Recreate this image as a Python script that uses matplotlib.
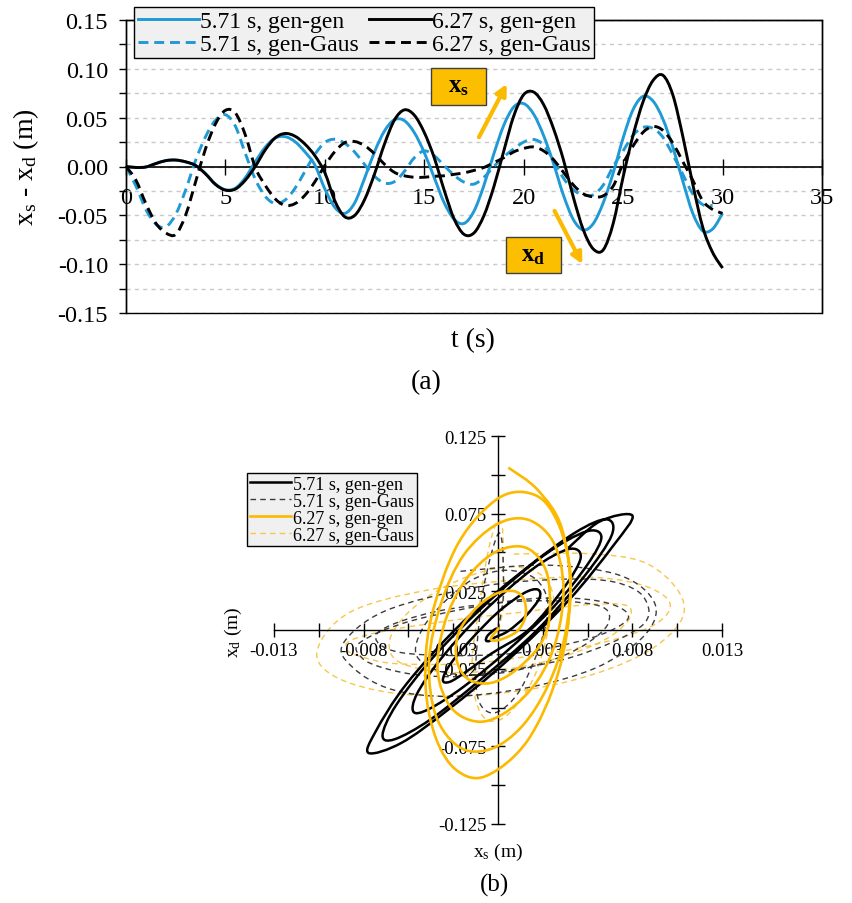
import numpy as np
import matplotlib
matplotlib.use("Agg")
import matplotlib.pyplot as plt
from matplotlib.patches import Rectangle, PathPatch
from matplotlib.path import Path
from matplotlib.lines import Line2D
from matplotlib.ticker import FixedLocator, FormatStrFormatter, MultipleLocator

plt.rcParams['font.family'] = ['Liberation Serif', 'DejaVu Serif']
plt.rcParams['mathtext.fontset'] = 'custom'
plt.rcParams['mathtext.rm'] = 'Liberation Serif'
plt.rcParams['mathtext.it'] = 'Liberation Serif:italic'
plt.rcParams['mathtext.bf'] = 'Liberation Serif:bold'

# ---- data -----------------------------------------------------------------
labels = ['5.71 s, gen-gen', '5.71 s, gen-Gaus', '6.27 s, gen-gen', '6.27 s, gen-Gaus']

# relative displacement x_s - x_d (m), sampled every 0.5 s
rel_571_gen = [0, -0.001, -0.0005, 0.003, 0.006, 0.0066, 0.0047, 0.0012, -0.0073, -0.018,
               -0.0238, -0.0222, -0.0115, 0.0049, 0.0197, 0.0291, 0.0306, 0.0254, 0.0149, 0.0014,
               -0.023, -0.0418, -0.048, -0.0372, -0.012, 0.0151, 0.0364, 0.0479, 0.0469, 0.0346,
               0.0142, -0.0114, -0.0371, -0.054, -0.0583, -0.0457, -0.0193, 0.0131, 0.0423, 0.061,
               0.0644, 0.0536, 0.0317, 0.003, -0.0295, -0.0545, -0.065, -0.0584, -0.0371, -0.0066,
               0.0293, 0.0583, 0.0718, 0.0671, 0.0485, 0.0197, -0.015, -0.0478, -0.0659, -0.064,
               -0.048]
rel_627_gen = [0, -0.001, -0.0005, 0.003, 0.006, 0.0066, 0.0048, 0.001, -0.0076, -0.0184,
               -0.0242, -0.0231, -0.014, 0.0, 0.0169, 0.0293, 0.0338, 0.031, 0.0229, 0.011,
               -0.0064, -0.0351, -0.0515, -0.0501, -0.0338, -0.0075, 0.0231, 0.0476, 0.058, 0.0525,
               0.0348, 0.009, -0.0242, -0.0537, -0.0695, -0.068, -0.0502, -0.0206, 0.0161, 0.0518,
               0.0736, 0.0762, 0.0634, 0.0387, 0.0067, -0.0318, -0.065, -0.0845, -0.0853, -0.0583,
               -0.0106, 0.032, 0.0662, 0.088, 0.0934, 0.0732, 0.0309, -0.018, -0.062, -0.088,
               -0.104]
rel_571_gaus = [0, -0.02, -0.044, -0.059, -0.0618, -0.049, -0.024, 0.0063, 0.0305, 0.0474,
                0.053, 0.0413, 0.0134, -0.013, -0.0305, -0.038, -0.0343, -0.0223, -0.0049, 0.0124,
                0.0246, 0.0279, 0.0238, 0.0148, 0.002, -0.010, -0.017, -0.0155, -0.005, 0.009,
                0.016, 0.011, 0.001, -0.009, -0.016, -0.018, -0.011, 0.0, 0.010, 0.018,
                0.025, 0.0277, 0.022, 0.006, -0.012, -0.024, -0.029, -0.029, -0.019, 0.0,
                0.016, 0.032, 0.040, 0.039, 0.030, 0.012, -0.008, -0.028, -0.039, -0.040]
rel_627_gaus = [0, -0.014, -0.038, -0.058, -0.068, -0.0695, -0.0497, -0.0157, 0.0182, 0.0437,
                0.0575, 0.0548, 0.0323, -0.001, -0.0192, -0.0331, -0.0398, -0.038, -0.0294, -0.0156,
                0.001, 0.0152, 0.0244, 0.0256, 0.0213, 0.013, 0.0023, -0.006, -0.0095, -0.011,
                -0.011, -0.010, -0.0095, -0.008, -0.0065, -0.004, -0.001, 0.004, 0.009, 0.015,
                0.0185, 0.02, 0.016, 0.007, -0.006, -0.019, -0.028, -0.031, -0.030, -0.020,
                0.003, 0.021, 0.035, 0.041, 0.037, 0.024, 0.005, -0.014, -0.035, -0.044,
                -0.048]

# structure displacement x_s (m) at the same instants
xs_571_gen = [0.0, 0.0, -0.0002, -0.0006, -0.0007, -0.0005, -0.0002, 0.0006, 0.0016, 0.0024,
              0.0023, 0.0015, 0.0, -0.0016, -0.0028, -0.0032, -0.0028, -0.0019, -0.0004, 0.0018,
              0.0038, 0.0048, 0.0041, 0.0020, -0.0009, -0.0033, -0.0047, -0.0049, -0.0040, -0.0020,
              0.0005, 0.0032, 0.0052, 0.0060, 0.0051, 0.0027, -0.0005, -0.0037, -0.0059, -0.0067,
              -0.0060, -0.0039, -0.0011, 0.0022, 0.0050, 0.0066, 0.0063, 0.0045, 0.0015, -0.0021,
              -0.0053, -0.0071, -0.0075, -0.0056, -0.0029, 0.0006, 0.0041, 0.0067, 0.0078, 0.0059,
              0.0040]
xs_627_gen = [0.0, 0.0, 0.0, -0.0003, -0.0004, 0.0, 0.0006, 0.0012, 0.0016, 0.0015,
              0.0009, -0.0002, -0.0014, -0.0023, -0.0024, -0.0018, -0.0007, 0.0004, 0.0015, 0.0025,
              0.0030, 0.0028, 0.0016, -0.0002, -0.0019, -0.0031, -0.0035, -0.0027, -0.0011, 0.0006,
              0.0023, 0.0034, 0.0038, 0.0032, 0.0017, -0.0001, -0.0020, -0.0033, -0.0040, -0.0036,
              -0.0022, -0.0004, 0.0014, 0.0029, 0.0039, 0.0042, 0.0035, 0.0022, 0.0001, -0.0023,
              -0.0039, -0.0042, -0.0036, -0.0024, -0.0007, 0.0017, 0.0035, 0.0042, 0.0037, 0.0023,
              0.0006]
xs_571_gaus = [0.0, 0.0003, 0.0003, 0.0002, 0.0, -0.0004, -0.0009, -0.0012, -0.0013, -0.0010,
               -0.0001, 0.0012, 0.0024, 0.0029, 0.0022, 0.0005, -0.0014, -0.0030, -0.0044, -0.0047,
               -0.0030, 0.0000, 0.0027, 0.0050, 0.0064, 0.0058, 0.0017, -0.0036, -0.0070, -0.0056,
               0.0004, 0.0052, 0.0075, 0.0068, 0.0044, 0.0007, -0.0050, -0.0080, -0.0079, -0.0066,
               -0.0043, -0.0013, 0.0042, 0.0083, 0.0085, 0.0068, 0.0037, -0.0011, -0.0065, -0.0090,
               -0.0084, -0.0062, -0.0028, 0.0016, 0.0057, 0.0085, 0.0091, 0.0071, 0.0028, -0.0022]
xs_627_gaus = [0.0, 0.0003, 0.0003, 0.0003, 0.0002, -0.0001, -0.0006, -0.0011, -0.0015, -0.0013,
               -0.0006, 0.0006, 0.0021, 0.0030, 0.0032, 0.0025, 0.0009, -0.0011, -0.0034, -0.0053,
               -0.0063, -0.0057, -0.0029, 0.0006, 0.0036, 0.0061, 0.0075, 0.0077, 0.0071, 0.0056,
               0.0035, 0.0011, -0.0015, -0.0040, -0.0061, -0.0078, -0.0087, -0.0088, -0.0080, -0.0063,
               -0.0037, -0.0008, 0.0049, 0.0088, 0.0100, 0.0087, 0.0058, 0.0018, -0.0039, -0.0086,
               -0.0105, -0.0094, -0.0059, -0.0009, 0.0042, 0.0084, 0.0106, 0.0105, 0.0085, 0.0052,
               0.0009]

time_s = np.linspace(0.0, 30.0, 61)

rels = [np.array(rel_571_gen), np.array(rel_571_gaus), np.array(rel_627_gen), np.array(rel_627_gaus)]
xss = [np.array(xs_571_gen), np.array(xs_571_gaus), np.array(xs_627_gen), np.array(xs_627_gaus)]

BLUE = '#1f9ad6'
GOLD = '#fbb900'


def smooth_curve(ax, x, y, **style):
    """Draw a smoothed (Catmull-Rom / cubic Bezier) line through the samples."""
    p = np.column_stack([x, y])
    n = len(p)
    verts = [p[0]]
    codes = [Path.MOVETO]
    for i in range(n - 1):
        p0 = p[i - 1] if i > 0 else p[i]
        p1, p2 = p[i], p[i + 1]
        p3 = p[i + 2] if i + 2 < n else p[i + 1]
        verts += [p1 + (p2 - p0) / 6.0, p2 - (p3 - p1) / 6.0, p2]
        codes += [Path.CURVE4] * 3
    patch = PathPatch(Path(verts, codes), fill=False, capstyle='butt', joinstyle='round', **style)
    ax.add_patch(patch)
    return patch


fig = plt.figure(figsize=(8.52, 9.04), dpi=100)

# ---- (a) time histories ---------------------------------------------------
ax = fig.add_axes([126 / 852, 1 - 314 / 904, 696 / 852, 293 / 904])
ax.set_xlim(0, 35)
ax.set_ylim(-0.15, 0.15)

top_colors = [BLUE, BLUE, 'black', 'black']
top_styles = ['-', (0, (3.4, 2.0)), '-', (0, (3.4, 2.0))]
top_handles = []
for rel, c, ls, lab in zip(rels, top_colors, top_styles, labels):
    smooth_curve(ax, time_s[:len(rel)], rel, ec=c, ls=ls, lw=2.1, zorder=3)
    top_handles.append(Line2D([], [], color=c, ls=ls, lw=2.1, label=lab))

for side in ['top', 'right', 'left']:
    ax.spines[side].set_linewidth(1.0)
ax.spines['bottom'].set_position(('data', 0))
ax.spines['bottom'].set_linewidth(1.2)
ax.add_patch(Rectangle((0, 0), 1, 1, transform=ax.transAxes, fill=False,
                       ec='black', lw=1.0, zorder=5, clip_on=False))

ax.xaxis.set_major_locator(MultipleLocator(5))
ax.tick_params(axis='x', direction='inout', length=12, width=1.0, labelsize=17.5, pad=9)
ax.yaxis.set_major_locator(MultipleLocator(0.05))
ax.yaxis.set_minor_locator(MultipleLocator(0.025))
ax.yaxis.set_major_formatter(FormatStrFormatter('%.2f'))
ax.tick_params(axis='y', which='both', direction='out', length=5, width=1.0, labelsize=17.5, pad=8)
ax.grid(which='both', axis='y', color='#c9c9c9', ls=(0, (3, 3)), lw=1.0, zorder=0)

ax.set_ylabel(r'$\mathregular{x_s}$ - $\mathregular{x_d}$ (m)', fontsize=20, labelpad=12)
fig.text(473 / 852, 1 - 341 / 904, 't (s)', ha='center', va='center', fontsize=20)
fig.text(426 / 852, 1 - 383 / 904, '(a)', ha='center', va='center', fontsize=20)

# x_s / x_d tags with arrows
ax.add_patch(Rectangle((15.35, 0.063), 2.75, 0.038, fc='#fcbf00', ec='#404040', lw=1.0, zorder=6))
ax.text(16.72, 0.082, r'$\mathbf{x_s}$', ha='center', va='center', fontsize=18, zorder=7)
ax.add_patch(Rectangle((19.1, -0.109), 2.75, 0.037, fc='#fcbf00', ec='#404040', lw=1.0, zorder=6))
ax.text(20.47, -0.0905, r'$\mathbf{x_d}$', ha='center', va='center', fontsize=18, zorder=7)
arrow_kw = dict(arrowstyle='-|>', color=GOLD, lw=3, mutation_scale=16, shrinkA=0, shrinkB=0)
ax.annotate('', xy=(19.15, 0.0845), xytext=(17.75, 0.030), arrowprops=arrow_kw, zorder=6)
ax.annotate('', xy=(22.95, -0.100), xytext=(21.55, -0.0455), arrowprops=arrow_kw, zorder=6)

leg = fig.legend(handles=top_handles, loc='upper left', bbox_to_anchor=(134 / 852, 1 - 8 / 904),
                 ncol=2, fontsize=17, frameon=True, fancybox=False, edgecolor='black',
                 facecolor='#f0f0f0', framealpha=1, handlelength=2.6, handletextpad=0.05,
                 columnspacing=0.45, labelspacing=0.05, borderpad=0.15, borderaxespad=0)
leg.get_frame().set_linewidth(1.0)
leg.set_zorder(10)

# ---- (b) x_s vs x_d -------------------------------------------------------
bx = fig.add_axes([274 / 852, 1 - 825 / 904, 448 / 852, 388 / 904])
bx.set_xlim(-0.013, 0.013)
bx.set_ylim(-0.125, 0.125)

bot_colors = ['black', '#3c3c3c', GOLD, '#f7c64a']
bot_styles = ['-', (0, (4, 3)), '-', (0, (4, 3))]
bot_widths = [1.8, 1.0, 1.9, 1.0]
bot_z = [3, 2, 4, 1]
bot_handles = []
for rel, xs_, c, ls, lw, z, lab in zip(rels, xss, bot_colors, bot_styles, bot_widths, bot_z, labels):
    xd = xs_ - rel
    smooth_curve(bx, xs_, xd, ec=c, ls=ls, lw=lw, zorder=z)
    bot_handles.append(Line2D([], [], color=c, ls=ls, lw=lw, label=lab))

for side in ['top', 'right']:
    bx.spines[side].set_visible(False)
bx.spines['left'].set_position(('data', 0))
bx.spines['bottom'].set_position(('data', 0))
bx.spines['left'].set_linewidth(1.0)
bx.spines['bottom'].set_linewidth(1.0)
bx.patch.set_visible(False)

bx.xaxis.set_major_locator(FixedLocator([-0.013, -0.0078, -0.0026, 0.0026, 0.0078, 0.013]))
bx.xaxis.set_minor_locator(FixedLocator([-0.0104, -0.0052, 0.0, 0.0052, 0.0104]))
bx.xaxis.set_major_formatter(FormatStrFormatter('%.3f'))
bx.yaxis.set_major_locator(FixedLocator([-0.125, -0.075, -0.025, 0.025, 0.075, 0.125]))
bx.yaxis.set_minor_locator(FixedLocator([-0.1, -0.05, 0.0, 0.05, 0.1]))
bx.yaxis.set_major_formatter(FormatStrFormatter('%.3f'))
bx.tick_params(which='both', direction='inout', length=10, width=1.0, labelsize=13.5, pad=4)
bx.tick_params(axis='y', which='both', pad=3)

fig.text(233 / 852, 1 - 632 / 904, r'$\mathregular{x_d}$ (m)', rotation=90,
         ha='center', va='center', fontsize=14)
fig.text(498 / 852, 1 - 852 / 904, r'$\mathregular{x_s}$ (m)', ha='center', va='center', fontsize=14)
fig.text(494 / 852, 1 - 885 / 904, '(b)', ha='center', va='center', fontsize=18)

leg2 = fig.legend(handles=bot_handles, loc='upper left', bbox_to_anchor=(247 / 852, 1 - 474 / 904),
                  ncol=1, fontsize=13, frameon=True, fancybox=False, edgecolor='black',
                  facecolor='#f0f0f0', framealpha=1, handlelength=2.3, handletextpad=0.1,
                  labelspacing=0.0, borderpad=0.15, borderaxespad=0)
leg2.get_frame().set_linewidth(1.0)

fig.savefig('out.png', dpi=100)
